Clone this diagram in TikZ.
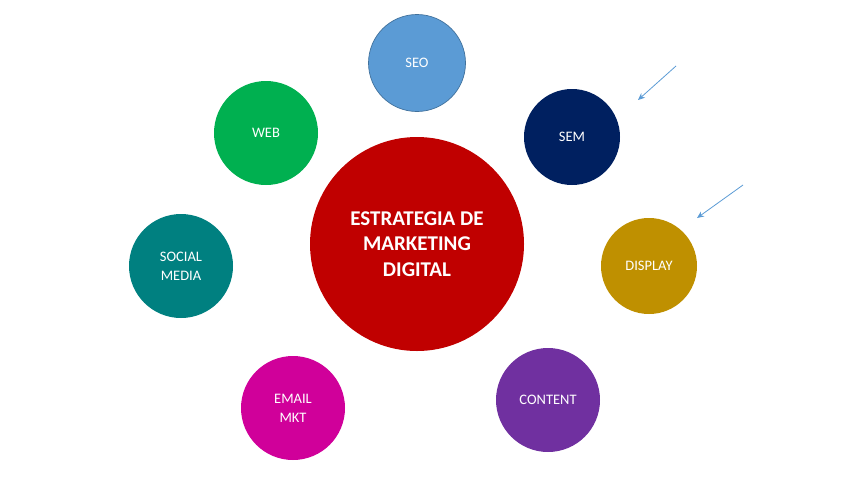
\documentclass[tikz,border=0pt]{standalone}
\usepackage{fontspec}
\setmainfont{Carlito}
\definecolor{cseo}{HTML}{5B9BD5}
\definecolor{cseoline}{HTML}{41719C}
\definecolor{csem}{HTML}{002060}
\definecolor{cdisp}{HTML}{BF9000}
\definecolor{ccont}{HTML}{7030A0}
\definecolor{cmail}{HTML}{D0009A}
\definecolor{csoc}{HTML}{008080}
\definecolor{cweb}{HTML}{00B050}
\definecolor{cred}{HTML}{C00000}
\usetikzlibrary{arrows.meta}
\tikzset{
  bub/.style={circle, draw=none, text=white, align=center, font=\fontsize{14.5}{19}\selectfont, inner sep=0pt},
  arr/.style={draw=cseo, line width=0.8pt, -{Stealth[length=7pt,width=6pt]}}
}
\begin{document}
\begin{tikzpicture}[x=1pt,y=-1pt]
\useasboundingbox (0,0) rectangle (848,477);
\node[bub, fill=cred, minimum size=214pt, font=\bfseries\fontsize{21}{25.5}\selectfont] (main) at (417,244) {ESTRATEGIA DE\\MARKETING\\DIGITAL};
\node[bub, fill=cseo, draw=cseoline, line width=0.7pt, minimum size=97pt] (seo) at (417,63) {SEO};
\node[bub, fill=csem, minimum size=96pt] (sem) at (572,137) {SEM};
\node[bub, fill=cdisp, minimum size=96pt] (disp) at (649,266) {DISPLAY};
\node[bub, fill=ccont, minimum size=104pt] (cont) at (548,400) {CONTENT};
\node[bub, fill=cmail, minimum size=104pt] (mail) at (293,408) {EMAIL\\MKT};
\node[bub, fill=csoc, minimum size=104pt] (soc) at (181,266) {SOCIAL\\MEDIA};
\node[bub, fill=cweb, minimum size=104pt] (web) at (266,133) {WEB};
\coordinate (a1s) at (676,66);
\coordinate (a1e) at (638,100);
\coordinate (a2s) at (743,185);
\coordinate (a2e) at (697,218);
\draw[arr] (a1s) -- (a1e);
\draw[arr] (a2s) -- (a2e);
\end{tikzpicture}
\end{document}
